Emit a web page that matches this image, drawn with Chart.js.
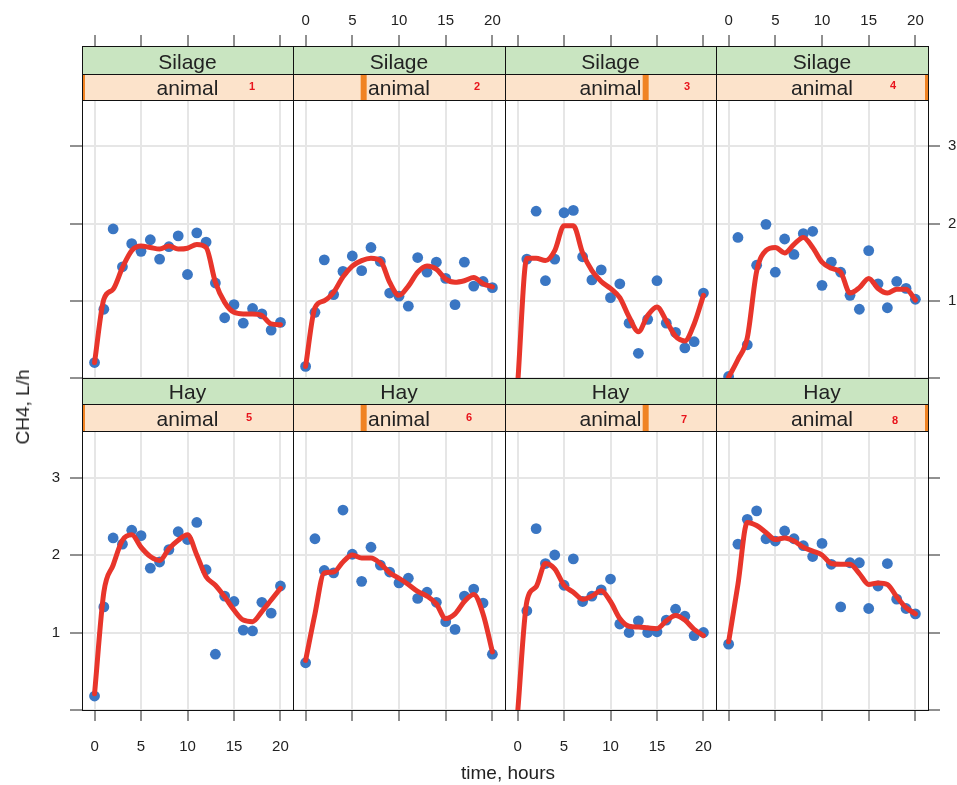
<!DOCTYPE html>
<html><head><meta charset="utf-8">
<script src="https://cdn.jsdelivr.net/npm/chart.js@4.4.1/dist/chart.umd.min.js"></script>
<style>
html,body{margin:0;padding:0;background:#fff;}
#wrap{position:relative;width:957px;height:785px;overflow:hidden;background:#fff;}
#wrap canvas{position:absolute;left:0;top:0;}
.ttl{position:absolute;font-family:"Liberation Sans",Arial,sans-serif;font-size:19px;color:#222;white-space:nowrap;}
</style></head><body>
<div id="wrap"></div>
<script>
// ---------- data ----------
const hours = [0,1,2,3,4,5,6,7,8,9,10,11,12,13,14,15,16,17,18,19,20];
const diets = ['Silage','Silage','Silage','Silage','Hay','Hay','Hay','Hay'];
const animals = ['1','2','3','4','5','6','7','8'];
const xTicks = [0,5,10,15,20];
const yTicks = [0,1,2,3];

const ch4_1 = [0.20,0.89,1.93,1.44,1.74,1.64,1.79,1.54,1.70,1.84,1.34,1.88,1.76,1.23,0.78,0.95,0.71,0.90,0.83,0.62,0.72];
const ch4_2 = [0.15,0.85,1.53,1.08,1.38,1.58,1.39,1.69,1.51,1.10,1.06,0.93,1.56,1.37,1.50,1.29,0.95,1.50,1.19,1.25,1.17];
const ch4_3 = [null,1.54,2.16,1.26,1.54,2.14,2.17,1.57,1.27,1.40,1.04,1.22,0.71,0.32,0.76,1.26,0.71,0.59,0.39,0.47,1.10];
const ch4_4 = [0.02,1.82,0.43,1.46,1.99,1.37,1.80,1.60,1.87,1.90,1.20,1.50,1.37,1.07,0.89,1.65,1.22,0.91,1.25,1.16,1.02];
const ch4_5 = [0.18,1.33,2.22,2.14,2.32,2.25,1.83,1.91,2.07,2.30,2.20,2.42,1.81,0.72,1.47,1.40,1.03,1.02,1.39,1.25,1.60];
const ch4_6 = [0.61,2.21,1.80,1.77,2.58,2.01,1.66,2.10,1.87,1.78,1.64,1.70,1.44,1.52,1.39,1.14,1.04,1.47,1.56,1.38,0.72];
const ch4_7 = [null,1.28,2.34,1.89,2.00,1.61,1.95,1.40,1.47,1.55,1.69,1.11,1.00,1.15,1.00,1.01,1.16,1.30,1.21,0.96,1.00];
const ch4_8 = [0.85,2.14,2.46,2.57,2.21,2.18,2.31,2.21,2.12,1.98,2.15,1.88,1.33,1.90,1.90,1.31,1.60,1.89,1.43,1.31,1.24];

const fit_1 = [0.20,1.02,1.15,1.43,1.65,1.71,1.69,1.67,1.71,1.67,1.68,1.73,1.69,1.24,0.98,0.85,0.83,0.83,0.81,0.70,0.69];
const fit_2 = [0.15,0.91,1.00,1.11,1.31,1.45,1.52,1.55,1.52,1.24,1.07,1.19,1.37,1.45,1.41,1.28,1.24,1.26,1.30,1.22,1.18];
const fit_3 = [-0.10,1.55,1.55,1.52,1.65,1.97,1.97,1.62,1.39,1.25,1.16,1.04,0.79,0.60,0.81,0.92,0.74,0.54,0.48,0.70,1.07];
const fit_4 = [0.01,0.24,0.52,1.38,1.65,1.69,1.62,1.73,1.82,1.69,1.50,1.42,1.37,1.10,1.17,1.29,1.16,1.10,1.15,1.15,1.01];
const fit_5 = [0.21,1.52,1.87,2.19,2.26,2.10,1.98,1.93,2.08,2.19,2.26,2.00,1.72,1.61,1.46,1.29,1.16,1.14,1.27,1.42,1.57];
const fit_6 = [0.64,1.24,1.77,1.78,1.91,2.00,1.96,1.96,1.89,1.77,1.70,1.62,1.53,1.47,1.37,1.18,1.24,1.40,1.49,1.24,0.75];
const fit_7 = [-0.05,1.40,1.59,1.89,1.82,1.61,1.52,1.43,1.47,1.54,1.40,1.18,1.08,1.07,1.06,1.05,1.15,1.22,1.16,1.04,0.96];
const fit_8 = [0.88,1.62,2.42,2.38,2.29,2.20,2.22,2.18,2.10,2.05,2.00,1.89,1.88,1.88,1.76,1.62,1.64,1.62,1.46,1.32,1.24];

const points = [ch4_1,ch4_2,ch4_3,ch4_4,ch4_5,ch4_6,ch4_7,ch4_8];
const fits = [fit_1,fit_2,fit_3,fit_4,fit_5,fit_6,fit_7,fit_8];

// ---------- layout ----------
const W = 957, H = 785;
const colEdges = [82, 293, 505, 716, 928];
const rows = [
  {green:[46,74], peach:[74,100], top:100, bottom:378},
  {green:[378,404], peach:[404,431], top:431, bottom:710}
];
const xMin = -1.35, xMax = 21.35, yMin = 0, yMax = 3.6;
const numX = [252, 477, 687, 893, 249, 469, 684, 895];
const numY = [87, 87, 87, 85.5, 418, 418, 420, 421];
const FONT = '"Liberation Sans", Arial, Helvetica, sans-serif';

const wrap = document.getElementById('wrap');

function stripPlugin(i) {
  const row = rows[i < 4 ? 0 : 1];
  const col = i % 4;
  return {
    id: 'strips' + i,
    afterDraw(chart) {
      const ctx = chart.ctx;
      const L = colEdges[col], R = colEdges[col + 1], w = R - L;
      ctx.save();
      ctx.fillStyle = '#c9e5c1';
      ctx.fillRect(L, row.green[0], w, row.green[1] - row.green[0]);
      ctx.fillStyle = '#fce3cb';
      ctx.fillRect(L, row.peach[0], w, row.peach[1] - row.peach[0]);
      ctx.save();
      ctx.beginPath();
      ctx.rect(L, row.peach[0], w, row.peach[1] - row.peach[0]);
      ctx.clip();
      ctx.fillStyle = '#f08323';
      const cx = L + w * col / 3;
      ctx.fillRect(cx - 3, row.peach[0], 6, row.peach[1] - row.peach[0]);
      ctx.restore();
      ctx.strokeStyle = '#111';
      ctx.lineWidth = 1;
      ctx.strokeRect(L + 0.5, row.green[0] + 0.5, w, row.green[1] - row.green[0]);
      ctx.strokeRect(L + 0.5, row.peach[0] + 0.5, w, row.peach[1] - row.peach[0]);
      ctx.strokeRect(L + 0.5, row.top + 0.5, w, row.bottom - row.top);
      ctx.fillStyle = '#222';
      ctx.font = '21px ' + FONT;
      ctx.textAlign = 'center';
      ctx.textBaseline = 'alphabetic';
      ctx.fillText(diets[i], L + w / 2, row.green[1] - 5);
      ctx.fillText('animal', L + w / 2, row.peach[1] - 5);
      ctx.fillStyle = '#e8141c';
      ctx.font = 'bold 11px ' + FONT;
      ctx.textBaseline = 'middle';
      ctx.fillText(animals[i], numX[i], numY[i]);
      ctx.restore();
    }
  };
}

for (let i = 0; i < 8; i++) {
  const r = i < 4 ? 0 : 1;
  const col = i % 4;
  const row = rows[r];
  const L = colEdges[col], R = colEdges[col + 1];
  const xPos = r === 0 ? 'top' : 'bottom';
  const xLabels = (r === 0 && (col === 1 || col === 3)) || (r === 1 && (col === 0 || col === 2));
  const yPos = col === 3 ? 'right' : 'left';
  const yShow = col === 0 || col === 3;
  const yLabels = (r === 1 && col === 0) || (r === 0 && col === 3);
  const xH = r === 0 ? row.top : 45;
  const yW = yShow ? (yPos === 'left' ? 40 : W - R) : 0;
  const pad = {
    left: yPos === 'left' ? L - yW : L,
    right: yPos === 'right' ? W - R - yW : W - R,
    top: r === 0 ? row.top - xH : row.top,
    bottom: r === 0 ? H - row.bottom : H - row.bottom - xH
  };

  const cv = document.createElement('canvas');
  cv.width = W; cv.height = H;
  cv.style.width = W + 'px'; cv.style.height = H + 'px';
  wrap.appendChild(cv);

  new Chart(cv.getContext('2d'), {
    type: 'line',
    data: {
      datasets: [
        {
          label: 'fit',
          data: hours.map((h, j) => ({x: h, y: fits[i][j]})),
          borderColor: '#e8352b',
          borderWidth: 5,
          pointRadius: 0,
          fill: false,
          cubicInterpolationMode: 'monotone',
          borderCapStyle: 'round',
          borderJoinStyle: 'round',
          clip: 0,
          order: 0
        },
        {
          label: 'CH4',
          data: hours.map((h, j) => ({x: h, y: points[i][j]})),
          showLine: false,
          pointRadius: 5.4,
          pointBorderWidth: 0,
          pointBackgroundColor: '#3a76c3',
          backgroundColor: '#3a76c3',
          borderColor: '#3a76c3',
          clip: 0,
          order: 1
        }
      ]
    },
    options: {
      responsive: false,
      animation: false,
      devicePixelRatio: 1,
      events: [],
      layout: { padding: pad, autoPadding: false },
      plugins: { legend: { display: false }, tooltip: { enabled: false } },
      scales: {
        x: {
          type: 'linear',
          position: xPos,
          min: xMin, max: xMax,
          afterBuildTicks: s => { s.ticks = xTicks.map(v => ({value: v})); },
          afterFit: s => { s.height = xH; },
          ticks: {
            autoSkip: false, maxRotation: 0, minRotation: 0,
            padding: r === 0 ? 5 : 17,
            color: '#222',
            font: { family: FONT, size: 15 },
            callback: v => xLabels ? String(v) : ''
          },
          grid: {
            color: '#e6e6e6', lineWidth: 2,
            tickColor: '#222', tickWidth: 1,
            tickLength: r === 0 ? (row.top - 35) : 11,
            drawTicks: true
          },
          border: { display: false }
        },
        y: {
          type: 'linear',
          position: yPos,
          min: yMin, max: yMax,
          afterBuildTicks: s => { s.ticks = yTicks.map(v => ({value: v})); },
          afterFit: s => { s.width = yW; },
          ticks: {
            display: yShow,
            padding: yPos === 'left' ? 10 : 8,
            color: '#222',
            font: { family: FONT, size: 15 },
            callback: v => (yLabels && v !== 0) ? String(v) : ''
          },
          grid: {
            color: '#e6e6e6', lineWidth: 2,
            tickColor: '#222', tickWidth: 1,
            tickLength: 12,
            drawTicks: yShow
          },
          border: { display: false }
        }
      }
    },
    plugins: [stripPlugin(i)]
  });
}

// axis titles
const yt = document.createElement('div');
yt.className = 'ttl';
yt.textContent = 'CH4, L/h';
yt.style.left = '23px'; yt.style.top = '407px';
yt.style.transform = 'translate(-50%,-50%) rotate(-90deg)';
wrap.appendChild(yt);
const xt = document.createElement('div');
xt.className = 'ttl';
xt.textContent = 'time, hours';
xt.style.left = '508px'; xt.style.top = '773px';
xt.style.transform = 'translate(-50%,-50%)';
wrap.appendChild(xt);
</script>
</body></html>
